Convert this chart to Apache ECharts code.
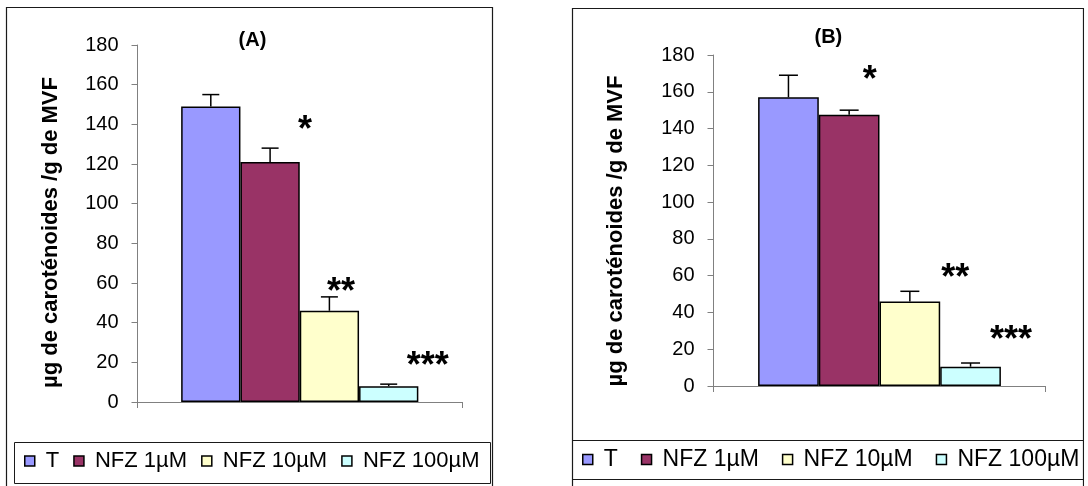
<!DOCTYPE html>
<html>
<head>
<meta charset="utf-8">
<title>Caroténoïdes – NFZ</title>
<script src="https://cdn.jsdelivr.net/npm/echarts/dist/echarts.min.js"></script>
<style>
  html, body { margin: 0; padding: 0; background: #fff; }
  #chart { width: 1088px; height: 486px; }
</style>
</head>
<body>
<div id="chart"></div>
<script>
// ---- data ----
const treatments = ['T', 'NFZ 1µM', 'NFZ 10µM', 'NFZ 100µM'];
const panelTitles = ['(A)', '(B)'];
const yAxisTitle = 'µg de caroténoides /g de MVF';

const meansA = [149, 121, 46, 8];
const errorsA = [6, 7, 7, 1];
const starsA = ['', '*', '**', '***'];

const meansB = [157, 147.5, 46, 10.5];
const errorsB = [12, 2.5, 5.5, 2];
const starsB = ['', '*', '**', '***'];

const yMin = 0;
const yMax = 180;
const yStep = 20;

// ---- style ----
const FONT = '"Liberation Sans", Arial, Helvetica, sans-serif';
const colors = ['#9999FF', '#993366', '#FFFFCC', '#CCFFFF'];
const AXIS_GREY = '#808080';
const STAR_FONT = 36;
const STAR_SHIFT = 8; // asterisk glyph sits above the text middle

const panels = [
  {
    title: panelTitles[0], means: meansA, errors: errorsA, stars: starsA,
    grid: { left: 137.5, top: 45, width: 324.5, height: 357 },
    barWidth: 59.3, capHalf: 8.5,
    titleX: 252.5, titleY: 30,
    nameGap: 76, namePad: 18,
    starOffsets: [[0, 0], [35, -25], [11.5, -12], [39, -25]],
    legend: { left: 24, top: 450, fontSize: 22, itemGap: 14 }
  },
  {
    title: panelTitles[1], means: meansB, errors: errorsB, stars: starsB,
    grid: { left: 713.5, top: 55, width: 332, height: 331 },
    barWidth: 60.7, capHalf: 9.5,
    titleX: 828.4, titleY: 27,
    nameGap: 87, namePad: 21,
    starOffsets: [[0, 0], [20.5, -37], [45.5, -20], [40.5, -30]],
    legend: { left: 582, top: 448, fontSize: 23, itemGap: 23 }
  }
];

const option = {
  animation: false,
  backgroundColor: '#ffffff',
  title: [], grid: [], xAxis: [], yAxis: [], legend: [], series: [],
  graphic: [
    // panel frames and legend boxes
    { type: 'rect', silent: true, z: 1, shape: { x: 6.5, y: 7.5, width: 486, height: 500 },
      style: { fill: 'none', stroke: '#1a1a1a', lineWidth: 1.2 } },
    { type: 'rect', silent: true, z: 1, shape: { x: 14.5, y: 442.5, width: 476, height: 41 },
      style: { fill: 'none', stroke: '#1a1a1a', lineWidth: 1 } },
    { type: 'rect', silent: true, z: 1, shape: { x: 572.5, y: 8.5, width: 511, height: 500 },
      style: { fill: 'none', stroke: '#1a1a1a', lineWidth: 1.2 } },
    { type: 'line', silent: true, z: 1, shape: { x1: 572.5, y1: 440.5, x2: 1083.5, y2: 440.5 },
      style: { stroke: '#1a1a1a', lineWidth: 1 } },
    { type: 'line', silent: true, z: 1, shape: { x1: 572.5, y1: 479.5, x2: 1083.5, y2: 479.5 },
      style: { stroke: '#1a1a1a', lineWidth: 1 } },
    // right margin beyond the panel B frame
    { type: 'rect', silent: true, z: 100, shape: { x: 1084.2, y: 0, width: 10, height: 486 },
      style: { fill: '#ffffff' } }
  ]
};

panels.forEach((p, k) => {
  option.title.push({
    text: p.title, left: p.titleX, top: p.titleY, textAlign: 'center', padding: 0,
    textStyle: { fontFamily: FONT, fontWeight: 'bold', fontSize: 20, color: '#000' }
  });

  option.grid.push(Object.assign({ containLabel: false }, p.grid));

  option.xAxis.push({
    type: 'category', gridIndex: k, data: [''],
    axisLine: { show: true, lineStyle: { color: AXIS_GREY, width: 1 } },
    axisTick: { show: true, length: 6, lineStyle: { color: AXIS_GREY } },
    axisLabel: { show: false },
    splitLine: { show: false }
  });

  option.yAxis.push({
    type: 'value', gridIndex: k, min: yMin, max: yMax, interval: yStep,
    name: yAxisTitle, nameLocation: 'middle', nameRotate: 90, nameGap: p.nameGap,
    nameTextStyle: {
      fontFamily: FONT, fontWeight: 'bold', fontSize: 22, color: '#000',
      padding: [0, p.namePad, 0, 0]
    },
    axisLine: { show: true, lineStyle: { color: AXIS_GREY, width: 1 } },
    axisTick: { show: true, length: 6, lineStyle: { color: AXIS_GREY } },
    axisLabel: { margin: 19, color: '#000', fontSize: 20, fontFamily: FONT },
    splitLine: { show: false }
  });

  treatments.forEach((name, i) => {
    option.series.push({
      type: 'bar', name, xAxisIndex: k, yAxisIndex: k,
      data: [p.means[i]],
      barWidth: p.barWidth, barGap: '0%',
      itemStyle: { color: colors[i], borderColor: '#000', borderWidth: 1.5 },
      emphasis: { disabled: true }
    });
  });

  // error bars (upper whisker only) and significance stars
  option.series.push({
    type: 'custom', name: 'sem-' + k, xAxisIndex: k, yAxisIndex: k,
    z: 5, silent: true, clip: false,
    encode: { x: 0, y: 1 },
    data: p.means.map((m, i) => [0, m, i, p.errors[i]]),
    renderItem: (params, api) => {
      const i = api.value(2);
      const mean = api.value(1);
      const err = api.value(3);
      const x = api.coord([0, 0])[0] + (i - 1.5) * p.barWidth;
      const yTop = api.coord([0, mean])[1];
      const yErr = api.coord([0, mean + err])[1];
      const children = [
        { type: 'line', shape: { x1: x, y1: yTop, x2: x, y2: yErr },
          style: { stroke: '#000', lineWidth: 1.5 } },
        { type: 'line', shape: { x1: x - p.capHalf, y1: yErr, x2: x + p.capHalf, y2: yErr },
          style: { stroke: '#000', lineWidth: 1.5 } }
      ];
      const s = p.stars[i];
      if (s) {
        const o = p.starOffsets[i];
        children.push({
          type: 'text', x: x + o[0], y: yErr + o[1] + STAR_SHIFT,
          style: {
            text: s, fill: '#000', fontFamily: FONT, fontWeight: 'bold',
            fontSize: STAR_FONT, align: 'center', verticalAlign: 'middle'
          }
        });
      }
      return { type: 'group', children };
    }
  });

  option.legend.push({
    data: treatments, orient: 'horizontal',
    left: p.legend.left, top: p.legend.top, padding: 0,
    itemWidth: 10, itemHeight: 10, itemGap: p.legend.itemGap,
    icon: 'rect', selectedMode: false,
    itemStyle: { borderColor: '#000', borderWidth: 1.5 },
    textStyle: { fontFamily: FONT, fontSize: p.legend.fontSize, color: '#000', padding: [0, 0, 0, 6] }
  });
});

const chart = echarts.init(document.getElementById('chart'), null, { renderer: 'canvas' });
chart.setOption(option);
</script>
</body>
</html>
